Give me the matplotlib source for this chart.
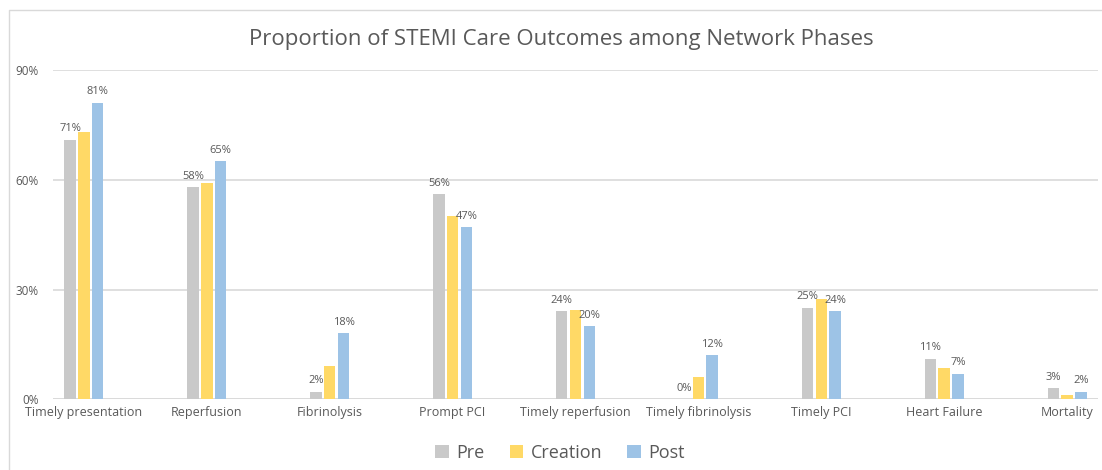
import matplotlib
matplotlib.use("Agg")
import matplotlib.pyplot as plt
from matplotlib.lines import Line2D
from matplotlib.patches import Patch
import numpy as np

categories = ["Timely presentation", "Reperfusion", "Fibrinolysis", "Prompt PCI",
              "Timely reperfusion", "Timely fibrinolysis", "Timely PCI",
              "Heart Failure", "Mortality"]
series_names = ["Pre", "Creation", "Post"]
pre = [71, 58, 2, 56, 24, 0, 25, 11, 3]
creation = [73, 59, 9, 50, 24.5, 6, 27.3, 8.6, 1.1]
post = [81, 65, 18, 47, 20, 12, 24, 7, 2]
yticks = [0, 30, 60, 90]
colors = ["#C9C9C9", "#FFD966", "#9DC3E6"]
text_color = "#595959"

W, H = 1102, 470
fig = plt.figure(figsize=(W / 100, H / 100), dpi=100)
plt.rcParams['font.family'] = ['Open Sans', 'DejaVu Sans']

ax = fig.add_axes([53 / W, 1 - 399.3 / H, (1098 - 53) / W, (399.3 - 70) / H])

x = np.arange(len(categories))
width = 0.093
step = 0.112
data = [pre, creation, post]
bars = []
for i, (vals, col) in enumerate(zip(data, colors)):
    b = ax.bar(x + (i - 1) * step, vals, width=width, color=col, zorder=3)
    bars.append(b)

# labels on Pre and Post only
for idx in (0, 2):
    for rect, v in zip(bars[idx], data[idx]):
        ax.annotate(f"{v:.0f}%", (rect.get_x() + rect.get_width() / 2, rect.get_height()),
                    xytext=(0, 4), textcoords="offset points", ha="center", va="bottom",
                    fontsize=8, color=text_color, zorder=4)

ax.set_xlim(-0.252, 8.252)
ax.set_ylim(0, 90)
ax.set_yticks(yticks)
ax.set_yticklabels([f"{t}%" for t in yticks], fontsize=8.5, color=text_color)
ax.set_xticks(x)
ax.set_xticklabels(categories, fontsize=9, color=text_color)
ax.tick_params(axis="both", length=0)
ax.tick_params(axis="y", pad=10)
ax.tick_params(axis="x", pad=5)
for s in ax.spines.values():
    s.set_visible(False)
ax.grid(axis="y", color="#D9D9D9", linewidth=1.2, zorder=0)
ax.axhline(0, color="#D9D9D9", linewidth=1.2, zorder=2)

fig.text(561 / W, 1 - 40 / H, "Proportion of STEMI Care Outcomes among Network Phases",
         ha="center", va="center", fontsize=16, color=text_color)

handles = [Patch(facecolor=c, edgecolor="none") for c in colors]
fig.legend(handles, series_names, loc="center", bbox_to_anchor=(560 / W, 1 - 453 / H),
           ncol=3, frameon=False, fontsize=13, labelcolor=text_color,
           handlelength=0.75, handleheight=0.75, handletextpad=0.4, columnspacing=1.4)

# outer border (left and top visible)
fig.add_artist(Line2D([9 / W, 9 / W, 1.0], [0.0, 1 - 10 / H, 1 - 10 / H],
                      transform=fig.transFigure, color="#D9D9D9", linewidth=1.0))

fig.savefig("out.png", dpi=100, facecolor="white")
